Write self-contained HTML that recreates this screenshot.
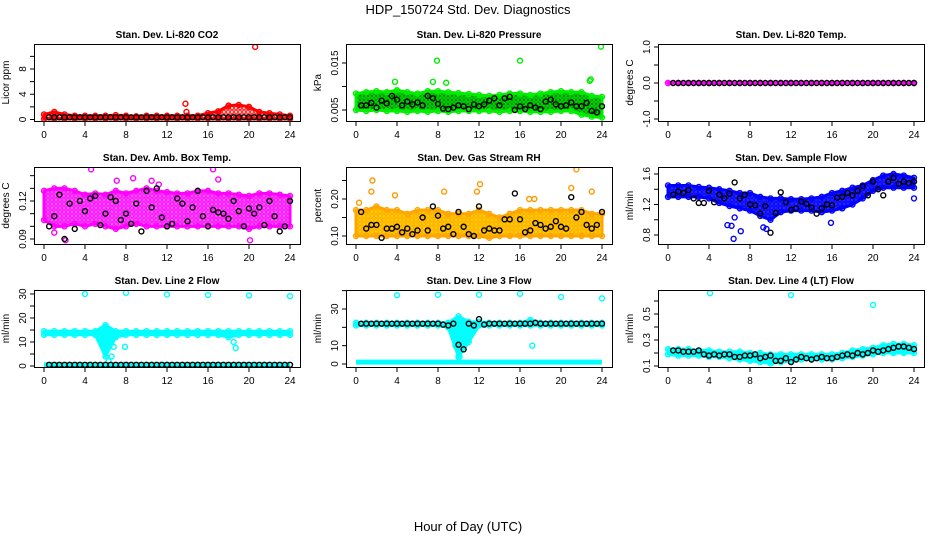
<!DOCTYPE html>
<html><head><meta charset="utf-8"><style>
body{margin:0;background:#fff;}
svg{display:block;font-family:"Liberation Sans",sans-serif;}
</style></head><body>
<svg id="chart" width="936" height="540" viewBox="0 0 936 540" xmlns="http://www.w3.org/2000/svg">
<text x="468" y="14" text-anchor="middle" font-size="13">HDP_150724  Std. Dev. Diagnostics</text>
<text x="468" y="531" text-anchor="middle" font-size="13">Hour of Day (UTC)</text>
</svg>
<script>
// ---- data ----
const hoursBand=[0,1,2,3,4,5,6,7,8,9,10,11,12,13,14,15,16,17,18,19,20,21,22,23,24];
const hoursBlack=[0.5,1,1.5,2,2.5,3,3.5,4,4.5,5,5.5,6,6.5,7,7.5,8,8.5,9,9.5,10,10.5,11,11.5,12,12.5,13,13.5,14,14.5,15,15.5,16,16.5,17,17.5,18,18.5,19,19.5,20,20.5,21,21.5,22,22.5,23,23.5,24];
const xTicks=[0,4,8,12,16,20,24];

const co2Hi=[0.8,1.2,0.8,0.6,0.6,0.6,0.6,0.7,0.6,0.5,0.6,0.6,0.6,0.6,0.6,0.6,1.0,1.3,2.2,2.3,2.0,1.2,1.0,0.8,0.6];
const co2Lo=[0.1,0.1,0.1,0.1,0.1,0.1,0.1,0.1,0.1,0.1,0.1,0.1,0.1,0.1,0.1,0.1,0.1,0.1,0.1,0.1,0.1,0.1,0.1,0.1,0.1];
const co2Black=[0.35,0.35,0.35,0.35,0.35,0.35,0.35,0.35,0.35,0.35,0.35,0.35,0.35,0.35,0.35,0.35,0.35,0.35,0.35,0.35,0.35,0.35,0.35,0.35,0.35,0.35,0.35,0.35,0.35,0.35,0.35,0.35,0.35,0.35,0.35,0.35,0.35,0.35,0.35,0.35,0.35,0.35,0.35,0.35,0.35,0.35,0.35,0.35];
const co2OutX=[13.8,13.9,20.6];
const co2OutY=[2.5,1.2,11.5];

const presHi=[0.0085,0.0088,0.0090,0.0088,0.0092,0.0088,0.0085,0.0090,0.0090,0.0088,0.0086,0.0084,0.0082,0.0080,0.0082,0.0085,0.0085,0.0082,0.0085,0.0088,0.0090,0.0088,0.0088,0.0080,0.0078];
const presLo=[0.0050,0.0048,0.0050,0.0048,0.0048,0.0046,0.0048,0.0046,0.0048,0.0046,0.0048,0.0048,0.0048,0.0048,0.0046,0.0048,0.0048,0.0046,0.0046,0.0046,0.0048,0.0048,0.0040,0.0036,0.0034];
const presBlack=[0.0060,0.0060,0.0065,0.0055,0.0070,0.0064,0.0080,0.0072,0.0060,0.0068,0.0062,0.0066,0.0060,0.0080,0.0075,0.0063,0.0053,0.0052,0.0055,0.0060,0.0058,0.0052,0.0062,0.0058,0.0062,0.0070,0.0075,0.0060,0.0075,0.0078,0.0050,0.0058,0.0052,0.0060,0.0055,0.0052,0.0068,0.0072,0.0062,0.0058,0.0060,0.0066,0.0058,0.0058,0.0065,0.0048,0.0045,0.0058];
const presOutX=[7.9,16.0,23.9,7.5,8.8,22.8,22.9,3.8];
const presOutY=[0.0155,0.0155,0.0185,0.0110,0.0108,0.0112,0.0115,0.0110];

const tempHi=[0,0,0,0,0,0,0,0,0,0,0,0,0,0,0,0,0,0,0,0,0,0,0,0,0];
const tempLo=[0,0,0,0,0,0,0,0,0,0,0,0,0,0,0,0,0,0,0,0,0,0,0,0,0];
const tempBlack=[0,0,0,0,0,0,0,0,0,0,0,0,0,0,0,0,0,0,0,0,0,0,0,0,0,0,0,0,0,0,0,0,0,0,0,0,0,0,0,0,0,0,0,0,0,0,0,0];
const tempOutX=[];
const tempOutY=[];

const ambHi=[0.128,0.130,0.130,0.128,0.125,0.126,0.125,0.128,0.126,0.128,0.130,0.128,0.127,0.126,0.126,0.128,0.128,0.126,0.126,0.125,0.124,0.126,0.126,0.125,0.124];
const ambLo=[0.105,0.100,0.100,0.102,0.100,0.102,0.100,0.098,0.100,0.102,0.100,0.100,0.100,0.100,0.100,0.100,0.100,0.100,0.100,0.100,0.098,0.100,0.100,0.100,0.100];
const ambBlack=[0.100,0.108,0.125,0.090,0.118,0.098,0.120,0.112,0.122,0.124,0.101,0.110,0.123,0.120,0.105,0.110,0.102,0.118,0.096,0.128,0.115,0.130,0.107,0.100,0.102,0.122,0.118,0.104,0.115,0.128,0.108,0.100,0.113,0.111,0.110,0.106,0.120,0.112,0.100,0.114,0.110,0.115,0.101,0.120,0.108,0.096,0.100,0.120];
const ambOutX=[4.6,2.1,16.5,8.7,17.0,7.1,20.1,1.0,10.5,11.2];
const ambOutY=[0.145,0.089,0.145,0.138,0.137,0.136,0.089,0.095,0.136,0.133];

const rhHi=[0.17,0.17,0.18,0.17,0.17,0.16,0.17,0.17,0.17,0.16,0.16,0.16,0.17,0.16,0.15,0.16,0.17,0.17,0.17,0.17,0.17,0.17,0.17,0.16,0.16];
const rhLo=[0.10,0.10,0.10,0.10,0.10,0.10,0.10,0.10,0.10,0.10,0.10,0.10,0.10,0.095,0.10,0.10,0.10,0.10,0.10,0.10,0.10,0.10,0.10,0.10,0.10];
const rhBlack=[0.165,0.12,0.13,0.13,0.095,0.12,0.12,0.125,0.11,0.12,0.105,0.115,0.15,0.115,0.18,0.155,0.12,0.125,0.105,0.165,0.125,0.105,0.10,0.18,0.115,0.12,0.115,0.115,0.145,0.145,0.215,0.145,0.11,0.115,0.135,0.13,0.12,0.125,0.14,0.125,0.12,0.205,0.15,0.165,0.13,0.12,0.13,0.165];
const rhOutX=[1.6,1.5,3.8,8.6,12.1,21.5,21.0,23.0,11.8,17.4,16.9,0.3];
const rhOutY=[0.25,0.22,0.21,0.22,0.24,0.28,0.23,0.22,0.22,0.20,0.20,0.19];

const flowHi=[1.45,1.45,1.45,1.43,1.42,1.40,1.38,1.35,1.35,1.30,1.28,1.28,1.27,1.27,1.28,1.30,1.35,1.38,1.42,1.45,1.52,1.58,1.60,1.58,1.55];
const flowLo=[1.30,1.30,1.30,1.30,1.28,1.22,1.18,1.15,1.12,1.05,1.00,1.10,1.12,1.12,1.12,1.10,1.12,1.15,1.20,1.28,1.38,1.42,1.42,1.42,1.42];
const flowBlack=[1.33,1.37,1.35,1.39,1.28,1.22,1.22,1.38,1.23,1.33,1.28,1.34,1.49,1.28,1.33,1.20,1.19,1.08,1.18,0.83,1.09,1.36,1.23,1.13,1.15,1.24,1.21,1.16,1.08,1.15,1.20,1.19,1.29,1.30,1.35,1.32,1.38,1.44,1.32,1.50,1.40,1.32,1.50,1.55,1.47,1.50,1.48,1.50];
const flowOutX=[5.8,6.2,6.4,7.1,9.3,9.6,15.9,6.5,24.0];
const flowOutY=[0.93,0.92,0.75,0.85,0.90,0.88,0.96,1.03,1.28];

const l2Hi=[14.5,14.5,14.5,14.5,14.5,14.5,17,14.5,14.5,14.5,14.5,14.5,14.5,14.5,14.5,14.5,14.5,14.5,14.5,14.5,14.5,14.5,14.5,14.5,14.5];
const l2Lo=[13,13,13,13,13,13,4,12,13,13,13,13,13,13,13,13,13,13,12,13,13,13,13,13,13];
const l2Base=[0.5,0.5,0.5,0.5,0.5,0.5,0.5,0.5,0.5,0.5,0.5,0.5,0.5,0.5,0.5,0.5,0.5,0.5,0.5,0.5,0.5,0.5,0.5,0.5,0.5];
const l2Black=[0.5,0.5,0.5,0.5,0.5,0.5,0.5,0.5,0.5,0.5,0.5,0.5,0.5,0.5,0.5,0.5,0.5,0.5,0.5,0.5,0.5,0.5,0.5,0.5,0.5,0.5,0.5,0.5,0.5,0.5,0.5,0.5,0.5,0.5,0.5,0.5,0.5,0.5,0.5,0.5,0.5,0.5,0.5,0.5,0.5,0.5,0.5,0.5];
const l2OutX=[4,8,12,16,20,24,7.9,6.6,6.3,18.5,18.7,6.8,6.9,6.1,5.9];
const l2OutY=[30,30.5,29.8,29.6,29.4,29.1,8,4,2,10,7.5,8,12,11,15];

const l3Hi=[22.5,22.5,22.5,22.5,22.5,22.5,22.5,22.5,22.5,22.5,26,23,23,22.5,22.5,22.5,22.5,24,22.5,22.5,22.5,22.5,22.5,22.5,22.5];
const l3Lo=[21,21,21,21,21,21,21,21,21,20,4,12,21,21,21,21,21,21,21,21,21,21,21,21,21];
const l3Base=[1,1,1,1,1,1,1,1,1,1,1,1,1,1,1,1,1,1,1,1,1,1,1,1,1];
const l3Black=[22,22,22,22,22,22,22,22,22,22,22,22,22,22,22,22,21.5,21,22,10.5,8,22,21,24.5,21.5,22,22,22,22,22,22,22,22,22,22.5,22,22,22,22,22,22,22,22,22,22,22,22,22];
const l3OutX=[4,8,12,16,20,24,17.2,9.7,10.1];
const l3OutY=[37.5,37.8,37.8,38.3,36.6,35.8,10,10,4];

const l4Hi=[0.23,0.23,0.23,0.22,0.22,0.21,0.21,0.21,0.20,0.20,0.19,0.19,0.19,0.19,0.19,0.19,0.19,0.20,0.22,0.23,0.24,0.26,0.27,0.27,0.26];
const l4Lo=[0.19,0.18,0.18,0.18,0.17,0.17,0.16,0.15,0.14,0.13,0.12,0.13,0.14,0.15,0.15,0.15,0.15,0.16,0.17,0.18,0.19,0.20,0.20,0.20,0.20];
const l4Black=[0.22,0.22,0.21,0.21,0.21,0.22,0.19,0.18,0.19,0.18,0.19,0.19,0.17,0.17,0.18,0.18,0.19,0.16,0.17,0.18,0.14,0.14,0.16,0.13,0.15,0.17,0.16,0.15,0.16,0.17,0.16,0.16,0.17,0.18,0.19,0.18,0.20,0.19,0.20,0.22,0.21,0.22,0.23,0.24,0.25,0.25,0.24,0.23];
const l4OutX=[4.1,12.0,20.0];
const l4OutY=[0.66,0.645,0.57];

// tick arrays
const co2Ticks=[0,2,4,6,8,10]; const co2Labels=["0","","4","","8",""];
const presTicks=[0.005,0.010,0.015]; const presLabels=["0.005","","0.015"];
const tempTicks=[-1,-0.5,0,0.5,1]; const tempLabels=["-1.0","","0.0","","1.0"];
const ambTicks=[0.09,0.10,0.11,0.12,0.13,0.14]; const ambLabels=["0.09","","","0.12","",""];
const rhTicks=[0.10,0.15,0.20,0.25]; const rhLabels=["0.10","","0.20",""];
const flowTicks=[0.8,1.0,1.2,1.4,1.6]; const flowLabels=["0.8","","1.2","","1.6"];
const l2Ticks=[0,5,10,15,20,25,30]; const l2Labels=["0","","10","","20","","30"];
const l3Ticks=[0,10,20,30,40]; const l3Labels=["0","10","","30",""];
const l4Ticks=[0.1,0.2,0.3,0.4,0.5,0.6]; const l4Labels=["0.1","","0.3","","0.5",""];

const NS="http://www.w3.org/2000/svg";
const svg=document.getElementById('chart');
function mk(tag,attrs,parent){const e=document.createElementNS(NS,tag);for(const k in attrs)e.setAttribute(k,attrs[k]);(parent||svg).appendChild(e);return e;}
const defs=mk('defs',{});

const W=266,H=77;
function panel(p){
  const g=mk('g',{});
  
  
  const L=p.left,T=p.top;
  const xs=h=>L+10+h*246/24;
  const ys=v=>p.py0+(v-p.v0)*(p.py1-p.py0)/(p.v1-p.v0);
  const pid='pat'+p.name;
  const pat=mk('pattern',{id:pid,width:4,height:4,patternUnits:'userSpaceOnUse'},defs);
  mk('rect',{x:0,y:0,width:4,height:4,fill:p.under},pat);
  mk('circle',{cx:2,cy:2,r:1.3,fill:'none',stroke:p.color,'stroke-width':1.1},pat);
  const cid='c'+p.name;
  const cp=mk('clipPath',{id:cid},defs);mk('rect',{x:L,y:T,width:W,height:H},cp);
  const dg=mk('g',{'clip-path':'url(#'+cid+')'},g);
  let pts=[];
  for(let i=0;i<hoursBand.length;i++)pts.push(xs(hoursBand[i])+','+ys(p.hi[i]));
  for(let i=hoursBand.length-1;i>=0;i--)pts.push(xs(hoursBand[i])+','+ys(p.lo[i]));
  const band=mk('polygon',{points:pts.join(' '),fill:'url(#'+pid+')',stroke:p.color,'stroke-width':3,'stroke-linejoin':'round'},dg);
  
  
  for(let i=0;i<hoursBand.length;i++){
    for(const arr of [p.hi,p.lo]){
      const c=mk('circle',{cx:xs(hoursBand[i]),cy:ys(arr[i]),r:2.5,fill:'none',stroke:p.color,'stroke-width':1.4},dg);
      
      
    }
  }
  if(p.base){
    const bl=mk('line',{x1:xs(0),x2:xs(24),y1:ys(p.base[0]),y2:ys(p.base[0]),stroke:p.color,'stroke-width':5},dg);
    
    
  }
  for(let i=0;i<p.ox.length;i++){
    const c=mk('circle',{cx:xs(p.ox[i]),cy:ys(p.oy[i]),r:2.5,fill:'none',stroke:p.ocolor||p.color,'stroke-width':1.4},dg);
    
    
  }
  for(let i=0;i<hoursBlack.length;i++){
    const c=mk('circle',{cx:xs(hoursBlack[i]),cy:ys(p.black[i]),r:2.5,fill:'none',stroke:'#000','stroke-width':1.4},dg);
    
    
  }
  const box=mk('rect',{x:L+0.5,y:T+0.5,width:W,height:H,fill:'none',stroke:'#000','stroke-width':1},g);
  
  
  const t=mk('text',{x:L+W/2,y:T-6,'text-anchor':'middle','font-size':10,'font-weight':'bold'},g);
  t.textContent=p.title;
  
  
  mk('line',{x1:xs(0),x2:xs(24),y1:T+H+0.5,y2:T+H+0.5,stroke:'#000'},g);
  for(const h of xTicks){
    mk('line',{x1:xs(h),x2:xs(h),y1:T+H,y2:T+H+5,stroke:'#000'},g);
    const tl=mk('text',{x:xs(h),y:T+H+17,'text-anchor':'middle','font-size':10},g);
    tl.textContent=h;
    
    
  }
  const yt=p.ticks;
  mk('line',{x1:L+0.5,x2:L+0.5,y1:ys(yt[0]),y2:ys(yt[yt.length-1]),stroke:'#000'},g);
  for(let i=0;i<yt.length;i++){
    const yy=ys(yt[i]);
    mk('line',{x1:L-4,x2:L,y1:yy,y2:yy,stroke:'#000'},g);
    if(p.labels[i]){
      const tl=mk('text',{x:L-8,y:yy,'text-anchor':'middle','font-size':10,transform:'rotate(-90 '+(L-8)+' '+yy+')'},g);
      tl.textContent=p.labels[i];
      
      
    }
  }
  const yl=L-25,ym=T+H/2;
  const at=mk('text',{x:yl,y:ym,'text-anchor':'middle','font-size':10,transform:'rotate(-90 '+yl+' '+ym+')'},g);
  at.textContent=p.ylab;
  
  
}
const C=[34,346,658],R=[44,167,290];
panel({name:'co2',title:'Stan. Dev. Li-820 CO2',ylab:'Licor ppm',left:C[0],top:R[0],v0:0,py0:119.5,v1:8,py1:69,hi:co2Hi,lo:co2Lo,black:co2Black,ox:co2OutX,oy:co2OutY,ticks:co2Ticks,labels:co2Labels,color:'#ff0000',under:'#ffffff'});
panel({name:'pressure',title:'Stan. Dev. Li-820 Pressure',ylab:'kPa',left:C[1],top:R[0],v0:0.005,py0:110,v1:0.015,py1:63,hi:presHi,lo:presLo,black:presBlack,ox:presOutX,oy:presOutY,ticks:presTicks,labels:presLabels,color:'#00ee00',under:'#006600'});
panel({name:'temp',title:'Stan. Dev. Li-820 Temp.',ylab:'degrees C',left:C[2],top:R[0],v0:-1,py0:119,v1:1,py1:47,hi:tempHi,lo:tempLo,black:tempBlack,ox:tempOutX,oy:tempOutY,ticks:tempTicks,labels:tempLabels,color:'#ff00ff',under:'#ffffff'});
panel({name:'amb-box',title:'Stan. Dev. Amb. Box Temp.',ylab:'degrees C',left:C[0],top:R[1],v0:0.09,py0:239,v1:0.12,py1:201,hi:ambHi,lo:ambLo,black:ambBlack,ox:ambOutX,oy:ambOutY,ticks:ambTicks,labels:ambLabels,color:'#ff00ff',under:'#ff77ff'});
panel({name:'gas-rh',title:'Stan. Dev. Gas Stream RH',ylab:'percent',left:C[1],top:R[1],v0:0.10,py0:236,v1:0.20,py1:199,hi:rhHi,lo:rhLo,black:rhBlack,ox:rhOutX,oy:rhOutY,ticks:rhTicks,labels:rhLabels,color:'#ffa500',ocolor:'#ff9900',under:'#ffdd00'});
panel({name:'sample-flow',title:'Stan. Dev. Sample Flow',ylab:'ml/min',left:C[2],top:R[1],v0:0.8,py0:235,v1:1.6,py1:174,hi:flowHi,lo:flowLo,black:flowBlack,ox:flowOutX,oy:flowOutY,ticks:flowTicks,labels:flowLabels,color:'#0000ff',under:'#3333ff'});
panel({name:'line2',title:'Stan. Dev. Line 2 Flow',ylab:'ml/min',left:C[0],top:R[2],v0:0,py0:366,v1:30,py1:294,hi:l2Hi,lo:l2Lo,base:l2Base,black:l2Black,ox:l2OutX,oy:l2OutY,ticks:l2Ticks,labels:l2Labels,color:'#00ffff',under:'#00ffff'});
panel({name:'line3',title:'Stan. Dev. Line 3 Flow',ylab:'ml/min',left:C[1],top:R[2],v0:0,py0:364,v1:30,py1:309,hi:l3Hi,lo:l3Lo,base:l3Base,black:l3Black,ox:l3OutX,oy:l3OutY,ticks:l3Ticks,labels:l3Labels,color:'#00ffff',under:'#00ffff'});
panel({name:'line4',title:'Stan. Dev. Line 4 (LT) Flow',ylab:'ml/min',left:C[2],top:R[2],v0:0.1,py0:366,v1:0.5,py1:314,hi:l4Hi,lo:l4Lo,black:l4Black,ox:l4OutX,oy:l4OutY,ticks:l4Ticks,labels:l4Labels,color:'#00ffff',under:'#00ffff'});
</script>
</body></html>
